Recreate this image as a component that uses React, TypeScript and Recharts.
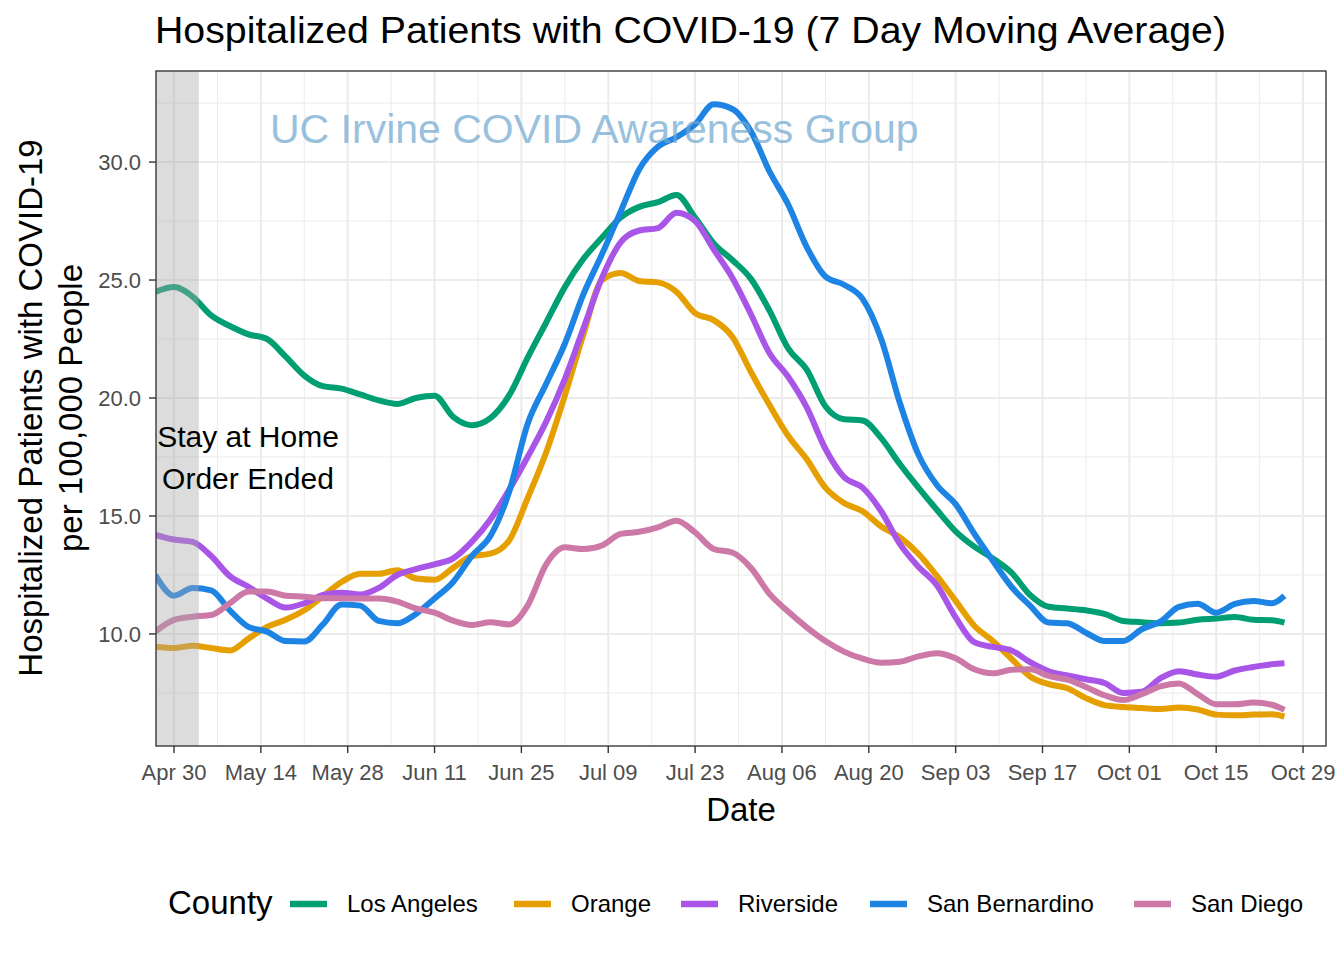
import { CartesianGrid, Line, LineChart, ReferenceArea, ReferenceLine, XAxis, YAxis } from 'recharts';

// days since Apr 30 2020
const days = [
  -3, 0, 3, 6, 9, 12, 15, 18, 21, 24, 27, 30, 33, 36, 39, 42, 45, 48, 51, 54, 57, 60, 63, 66, 69, 72, 75, 78, 81, 84, 87,
  90, 93, 96, 99, 102, 105, 108, 111, 114, 117, 120, 123, 126, 129, 132, 135, 138, 141, 144, 147, 150, 153, 156, 159, 162,
  165, 168, 171, 174, 177, 179,
];

const losAngeles = [
  24.5, 24.7, 24.3, 23.5, 23.05, 22.7, 22.5, 21.75, 20.95, 20.5, 20.4, 20.15, 19.9, 19.75, 20.0, 20.1, 19.2, 18.85, 19.15,
  20.1, 21.7, 23.2, 24.7, 25.9, 26.8, 27.65, 28.1, 28.3, 28.6, 27.65, 26.55, 25.85, 25.05, 23.7, 22.1, 21.2, 19.65, 19.1,
  19.05, 18.3, 17.2, 16.2, 15.25, 14.35, 13.7, 13.2, 12.6, 11.65, 11.15, 11.08, 11.0, 10.85, 10.55, 10.5, 10.45, 10.48,
  10.6, 10.65, 10.72, 10.6, 10.58, 10.48,
];
const orange = [
  9.46, 9.4, 9.5, 9.4, 9.3, 9.8, 10.3, 10.6, 11.0, 11.6, 12.2, 12.55, 12.55, 12.7, 12.35, 12.3, 12.8, 13.3, 13.4, 13.95,
  15.75, 17.7, 20.1, 22.7, 25.0, 25.3, 24.96, 24.9, 24.5, 23.6, 23.3, 22.6, 21.1, 19.7, 18.4, 17.4, 16.2, 15.55, 15.2,
  14.55, 14.1, 13.4, 12.45, 11.4, 10.35, 9.7, 8.95, 8.2, 7.87, 7.7, 7.28, 6.98, 6.9, 6.86, 6.82, 6.88, 6.8, 6.58, 6.55,
  6.58, 6.6, 6.5,
];
const riverside = [
  14.2, 14.0, 13.9, 13.3, 12.45, 12.0, 11.5, 11.12, 11.3, 11.65, 11.75, 11.67, 11.95, 12.5, 12.75, 12.95, 13.2, 13.9,
  14.85, 16.1, 17.5, 19.0, 20.8, 22.95, 25.1, 26.6, 27.1, 27.2, 27.85, 27.5, 26.3, 25.1, 23.55, 21.9, 20.9, 19.6, 17.85,
  16.65, 16.2, 15.2, 13.82, 12.85, 12.05, 10.7, 9.65, 9.45, 9.3, 8.8, 8.42, 8.24, 8.08, 7.92, 7.5, 7.55, 8.12, 8.42, 8.28,
  8.19, 8.45, 8.6, 8.72, 8.76,
];
const sanBernardino = [
  12.5, 11.62, 11.95, 11.85, 11.0, 10.3, 10.1, 9.7, 9.68, 10.4, 11.25, 11.2, 10.55, 10.45, 10.85, 11.5, 12.2, 13.3, 14.15,
  16.0, 18.9, 20.6, 22.3, 24.4, 26.1, 27.9, 29.7, 30.65, 31.05, 31.6, 32.45, 32.25, 31.3, 29.6, 28.2, 26.4, 25.15, 24.8,
  24.2, 22.5, 19.8, 17.6, 16.3, 15.5, 14.25, 13.1, 12.0, 11.2, 10.48, 10.45, 10.05, 9.7, 9.7, 10.2, 10.52, 11.15, 11.28,
  10.9, 11.27, 11.4, 11.3, 11.62,
];
const sanDiego = [
  10.1, 10.6, 10.73, 10.8, 11.3, 11.8, 11.8, 11.62, 11.58, 11.51, 11.51, 11.5, 11.5, 11.37, 11.08, 10.9, 10.56, 10.38,
  10.5, 10.4, 11.2, 12.95, 13.67, 13.6, 13.75, 14.24, 14.33, 14.52, 14.8, 14.3, 13.6, 13.45, 12.8, 11.7, 10.95, 10.28, 9.7,
  9.25, 8.95, 8.78, 8.82, 9.05, 9.18, 8.97, 8.5, 8.33, 8.48, 8.5, 8.22, 8.06, 7.75, 7.4, 7.2, 7.45, 7.78, 7.9, 7.45, 7.02,
  7.02, 7.09, 7.0, 6.78,
];

const tickDays = [0, 14, 28, 42, 56, 70, 84, 98, 112, 126, 140, 154, 168, 182];
const tickLabels = ['Apr 30', 'May 14', 'May 28', 'Jun 11', 'Jun 25', 'Jul 09', 'Jul 23', 'Aug 06', 'Aug 20', 'Sep 03', 'Sep 17', 'Oct 01', 'Oct 15', 'Oct 29'];
const minorDays = [7, 21, 35, 49, 63, 77, 91, 105, 119, 133, 147, 161, 175];
const yTicks = [10, 15, 20, 25, 30];
const yMinor = [7.5, 12.5, 17.5, 22.5, 27.5, 32.5];

const series = [
  { key: 'la', name: 'Los Angeles', color: '#009E73', values: losAngeles },
  { key: 'oc', name: 'Orange', color: '#E69F00', values: orange },
  { key: 'rv', name: 'Riverside', color: '#A855E8', values: riverside },
  { key: 'sb', name: 'San Bernardino', color: '#1E84E4', values: sanBernardino },
  { key: 'sd', name: 'San Diego', color: '#CC79A7', values: sanDiego },
];

const data = days.map((day, i) => {
  const row: Record<string, number> = { day };
  series.forEach((s) => (row[s.key] = s.values[i]));
  return row;
});

const FONT = '"Liberation Sans", Arial, Helvetica, sans-serif';
const legendX = [290, 514, 681, 870, 1134];

const XTick = (props: any) => {
  const { x, y, payload } = props;
  const idx = tickDays.indexOf(payload.value);
  return (
    <text x={x} y={y} dy={25} textAnchor="middle" fill="#4d4d4d" fontSize={22} fontFamily={FONT}>
      {tickLabels[idx]}
    </text>
  );
};

const YTick = (props: any) => {
  const { x, y, payload } = props;
  return (
    <text x={x - 6} y={y} dy="0.36em" textAnchor="end" fill="#4d4d4d" fontSize={22} fontFamily={FONT}>
      {payload.value.toFixed(1)}
    </text>
  );
};

export default function App() {
  return (
    <div style={{ position: 'absolute', left: 0, top: 0, width: 1344, height: 960, background: '#fff' }}>
      <LineChart width={1344} height={960} data={data} margin={{ top: 71, right: 18, bottom: 184, left: 96 }}>
        <CartesianGrid stroke="#ebebeb" strokeWidth={2} />
        {minorDays.map((d) => (
          <ReferenceLine key={`mx${d}`} x={d} stroke="#ebebeb" strokeWidth={1} />
        ))}
        {yMinor.map((v) => (
          <ReferenceLine key={`my${v}`} y={v} stroke="#ebebeb" strokeWidth={1} />
        ))}
        <XAxis
          dataKey="day"
          type="number"
          domain={[-2.9, 185.7]}
          ticks={tickDays}
          interval={0}
          allowDataOverflow
          height={30}
          axisLine={false}
          tickSize={7}
          tickLine={{ stroke: '#333', strokeWidth: 1.4 }}
          tick={<XTick />}
        />
        <YAxis
          type="number"
          domain={[5.25, 33.86]}
          ticks={yTicks}
          interval={0}
          allowDataOverflow
          width={60}
          axisLine={false}
          tickSize={7}
          tickLine={{ stroke: '#333', strokeWidth: 1.4 }}
          tick={<YTick />}
        />
        {series.map((s) => (
          <Line
            key={s.key}
            type="monotone"
            dataKey={s.key}
            name={s.name}
            stroke={s.color}
            strokeWidth={6}
            dot={false}
            isAnimationActive={false}
          />
        ))}
        <ReferenceArea
          x1={-2.9}
          x2={4}
          fill="#a8a8a8"
          fillOpacity={0.4}
          stroke="none"
          ifOverflow="hidden"
          {...({ zIndex: 600 } as any)}
        />
      </LineChart>

      <svg width={1344} height={960} style={{ position: 'absolute', left: 0, top: 0, pointerEvents: 'none' }} fontFamily={FONT}>
        <rect x={156} y={71} width={1170} height={675} fill="none" stroke="#333" strokeWidth={1.3} />
        <text x={270} y={143} fontSize={41} fill="#6fa8d0" opacity={0.7}>
          UC Irvine COVID Awareness Group
        </text>
        <text x={248} y={447} fontSize={30} textAnchor="middle" fill="#000">
          Stay at Home
        </text>
        <text x={248} y={489} fontSize={30} textAnchor="middle" fill="#000">
          Order Ended
        </text>
        <text x={155} y={43} fontSize={37} fill="#000" textLength={1071} lengthAdjust="spacingAndGlyphs">
          Hospitalized Patients with COVID-19  (7 Day Moving Average)
        </text>
        <text x={41.5} y={408} fontSize={33} textAnchor="middle" transform="rotate(-90 41.5 408)" fill="#000">
          Hospitalized Patients with COVID-19
        </text>
        <text x={81.5} y={408} fontSize={33} textAnchor="middle" transform="rotate(-90 81.5 408)" fill="#000">
          per 100,000 People
        </text>
        <text x={741} y={821} fontSize={33} textAnchor="middle" fill="#000">
          Date
        </text>
        <text x={168} y={914} fontSize={33} fill="#000">
          County
        </text>
        {series.map((s, i) => (
          <g key={s.key}>
            <line x1={legendX[i]} x2={legendX[i] + 37} y1={904} y2={904} stroke={s.color} strokeWidth={6.5} />
            <text x={legendX[i] + 57} y={912} fontSize={24} fill="#000">
              {s.name}
            </text>
          </g>
        ))}
      </svg>
    </div>
  );
}
